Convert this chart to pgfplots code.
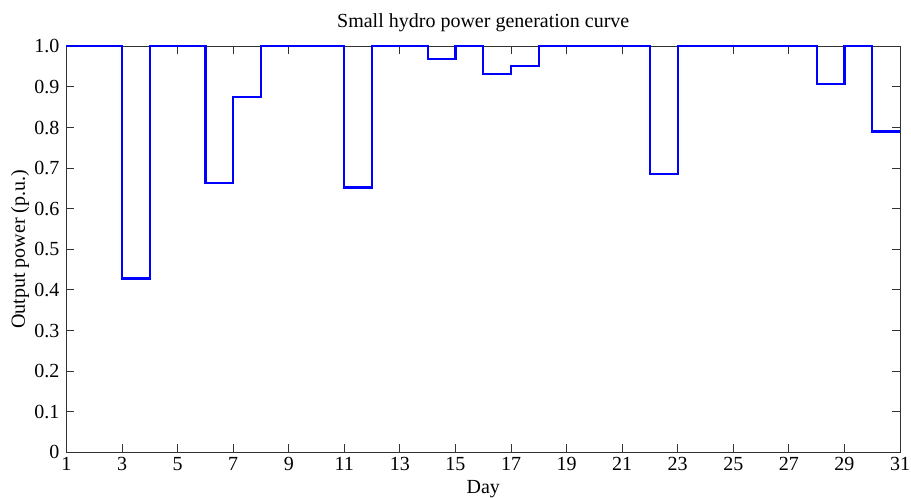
\documentclass[border=0pt]{standalone}
\usepackage{fontspec}
\setmainfont{Liberation Serif}
\usepackage{pgfplots}
\pgfplotsset{compat=1.18}
\begin{document}
\fontsize{10}{12}\selectfont
\begin{tikzpicture}
\path[use as bounding box] (-33.25pt,-22.85pt) rectangle (422.25pt,226.15pt);
\begin{axis}[
  at={(0pt,0pt)}, anchor=south west,
  scale only axis,
  width=416.75pt, height=203pt,
  xmin=1, xmax=31, ymin=0, ymax=1,
  xtick={1,3,...,31},
  ytick={0,0.1,0.2,0.3,0.4,0.5,0.6,0.7,0.8,0.9,1.0},
  yticklabels={0,0.1,0.2,0.3,0.4,0.5,0.6,0.7,0.8,0.9,1.0},
  /pgf/number format/assume math mode=true,
  tick align=inside,
  major tick length=4pt,
  tick style={black!80, line width=0.5pt},
  axis line style={black!80, line width=0.5pt},
  every tick label/.append style={font=\fontsize{10}{12}\selectfont},
  xticklabel style={yshift=1pt},
  xlabel={Day},
  ylabel={Output power (p.u.)},
  xlabel style={at={(axis description cs:0.5,-0.091)}, anchor=center},
  ylabel style={at={(axis description cs:-0.0558,0.5)}, anchor=center, rotate=0},
  clip=false,
]
\addplot[const plot, color={rgb,255:red,0;green,0;blue,255}, line width=1.1pt, line join=miter] coordinates {
(1,1) (2,1) (3,0.428) (4,1) (5,1) (6,0.663) (7,0.876) (8,1) (9,1) (10,1)
(11,0.652) (12,1) (13,1) (14,0.968) (15,1) (16,0.9325) (17,0.952) (18,1)
(19,1) (20,1) (21,1) (22,0.686) (23,1) (24,1) (25,1) (26,1) (27,1)
(28,0.908) (29,1) (30,0.790) (31,0.790)
};
\node[anchor=center] at (axis description cs:0.5,1.059) {Small hydro power generation curve};
\end{axis}
\end{tikzpicture}
\end{document}
